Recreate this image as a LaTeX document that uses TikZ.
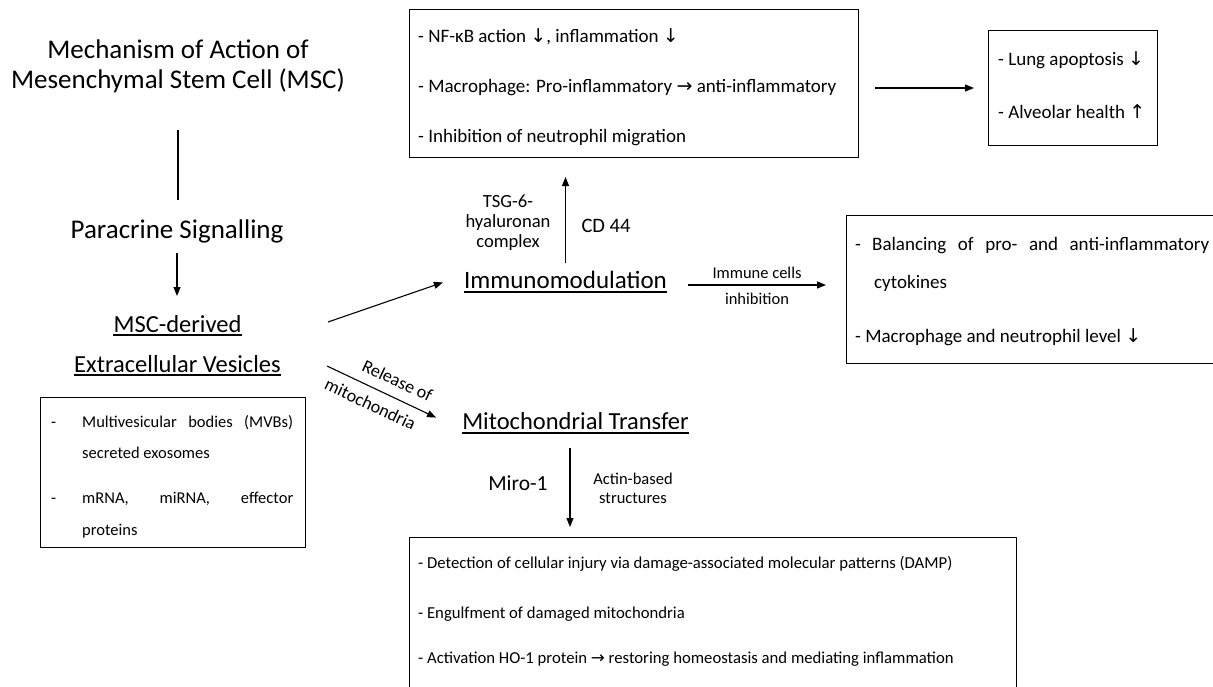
\documentclass[tikz,border=0pt]{standalone}
\usepackage{fontspec}
\setmainfont{Carlito}
\newfontfamily\arrfont{DejaVu Sans}
\newcommand{\dnarr}{{\arrfont ↓}}
\newcommand{\uparr}{{\arrfont ↑}}
\newcommand{\rtarr}{{\arrfont →}}
\usetikzlibrary{arrows.meta}
\begin{document}
\begin{tikzpicture}[x=1pt,y=-1pt,
  every node/.style={inner sep=0pt},
  ln/.style={line width=1.1pt},
  arr/.style={line width=1.1pt,-{Triangle[length=9pt,width=7pt]}},
  box/.style={draw,line width=1.2pt,anchor=north west,minimum width=#1},
  ttl/.style={font=\fontsize{27}{30}\selectfont},
  head/.style={font=\fontsize{25}{30}\selectfont},
  bt/.style={font=\fontsize{19}{22}\selectfont,anchor=base west},
  st/.style={font=\fontsize{16.5}{19}\selectfont,anchor=base west},
  lab/.style={font=\fontsize{16.5}{19.5}\selectfont},
  ul/.style={line width=1.1pt}]
\useasboundingbox (0,0) rectangle (1213,686);

% left column
\node[ttl,align=center,anchor=base] (title) at (178,88) {Mechanism of Action of\\Mesenchymal Stem Cell (MSC)};
\node[anchor=base,font=\fontsize{27}{30}\selectfont] (para) at (177,238) {Paracrine Signalling};
\node[anchor=base,font=\fontsize{24.5}{28}\selectfont] (msc) at (177.5,332) {MSC-derived};
\node[anchor=base,font=\fontsize{24.5}{28}\selectfont] (ev) at (177.5,372) {Extracellular Vesicles};
\draw[ul] ([yshift=-3pt]msc.base west) -- ([yshift=-3pt]msc.base east);
\draw[ul] ([yshift=-3pt]ev.base west) -- ([yshift=-3pt]ev.base east);

\draw[ln] (title.south |- 0,130) -- (title.south |- 0,200);
\draw[arr] (para.south |- 0,253) -- (para.south |- 0,296);

% MVB box
\node[box=265pt,minimum height=150pt] (mvb) at (40,397) {};
\node[st] (m1d) at (51,427) {-};
\node[st] (m1) at (82,427) {\makebox[211pt][l]{Multivesicular\hfill bodies\hfill (MVBs)}};
\node[st] (m2) at (82,458) {secreted exosomes};
\node[st] (m3d) at (51,503) {-};
\node[st] (m3) at (82,503) {\makebox[211pt][l]{mRNA,\hfill miRNA,\hfill effector}};
\node[st] (m4) at (82,535) {proteins};

% middle headings
\node[head,anchor=base] (immuno) at (565.5,288) {Immunomodulation};
\draw[ul] ([yshift=-4pt]immuno.base west) -- ([yshift=-4pt]immuno.base east);
\node[anchor=base,font=\fontsize{24.5}{29}\selectfont] (mito) at (575.5,429) {Mitochondrial Transfer};
\draw[ul] ([yshift=-4pt]mito.base west) -- ([yshift=-4pt]mito.base east);

% top box
\node[box=449pt,minimum height=148pt] (topbox) at (409,9) {};
\node[bt] (t1) at (418,42) {- NF-κB action \dnarr, inflammation \dnarr};
\node[bt] (t2) at (418,92) {- Macrophage: Pro-inflammatory \rtarr\ anti-inflammatory};
\node[bt] (t3) at (418,142) {- Inhibition of neutrophil migration};

% lung box
\node[box=169pt,minimum height=115pt] (lung) at (988,30) {};
\node[bt] (l1) at (998,65) {- Lung apoptosis \dnarr};
\node[bt] (l2) at (998,118) {- Alveolar health \uparr};

% middle right box
\node[box=400pt,minimum height=148pt] (mid) at (846,215) {};
\node[bt] (r1d) at (855,250) {-};
\node[bt] (r1) at (872,250) {\makebox[337pt][l]{Balancing\hfill of\hfill pro-\hfill and\hfill anti-inflammatory}};
\node[bt] (r2) at (874,288) {cytokines};
\node[bt] (r3) at (855,342) {- Macrophage and neutrophil level \dnarr};

% bottom box
\node[box=607pt,minimum height=170pt] (bot) at (409,537) {};
\node[st,font=\fontsize{16.7}{19}\selectfont] (b1) at (418,568) {- Detection of cellular injury via damage-associated molecular patterns (DAMP)};
\node[st,font=\fontsize{16.7}{19}\selectfont] (b2) at (418,618) {- Engulfment of damaged mitochondria};
\node[st,font=\fontsize{16.7}{19}\selectfont] (b3) at (418,663) {- Activation HO-1 protein \rtarr\ restoring homeostasis and mediating inflammation};

% connectors
\coordinate (evA) at (328,322);
\coordinate (evB) at (327,366);
\draw[arr] (evA) -- ([xshift=-21pt,yshift=-3pt]immuno.west);
\draw[arr] (evB) -- node[pos=0.58,sloped,above=10pt,font=\fontsize{18}{20}\selectfont] (rel1) {Release of}
   node[pos=0.46,sloped,below=9pt,font=\fontsize{18}{20}\selectfont] (rel2) {mitochondria} ([xshift=-26pt,yshift=3pt]mito.west);

\draw[arr] (immuno.north |- 0,263) -- (immuno.north |- 0,177);
\node[align=center,font=\fontsize{18.6}{20}\selectfont] (tsg) at (508,223) {TSG-6-\\hyaluronan\\complex};
\node[font=\fontsize{20.5}{24}\selectfont] (cd) at (606,226) {CD 44};

\draw[arr] (688,285) -- node[above=6pt,lab] (ic1) {Immune cells} node[below=7pt,lab] (ic2) {inhibition} (826,285);

\draw[arr] (875,88) -- (974,88);

\draw[arr] (570,448) -- (570,527);
\node[font=\fontsize{21.5}{25}\selectfont] (miro) at (518,483) {Miro-1};
\node[align=center,font=\fontsize{16.5}{19}\selectfont] (actin) at (633,488) {Actin-based\\structures};
\end{tikzpicture}
\end{document}
